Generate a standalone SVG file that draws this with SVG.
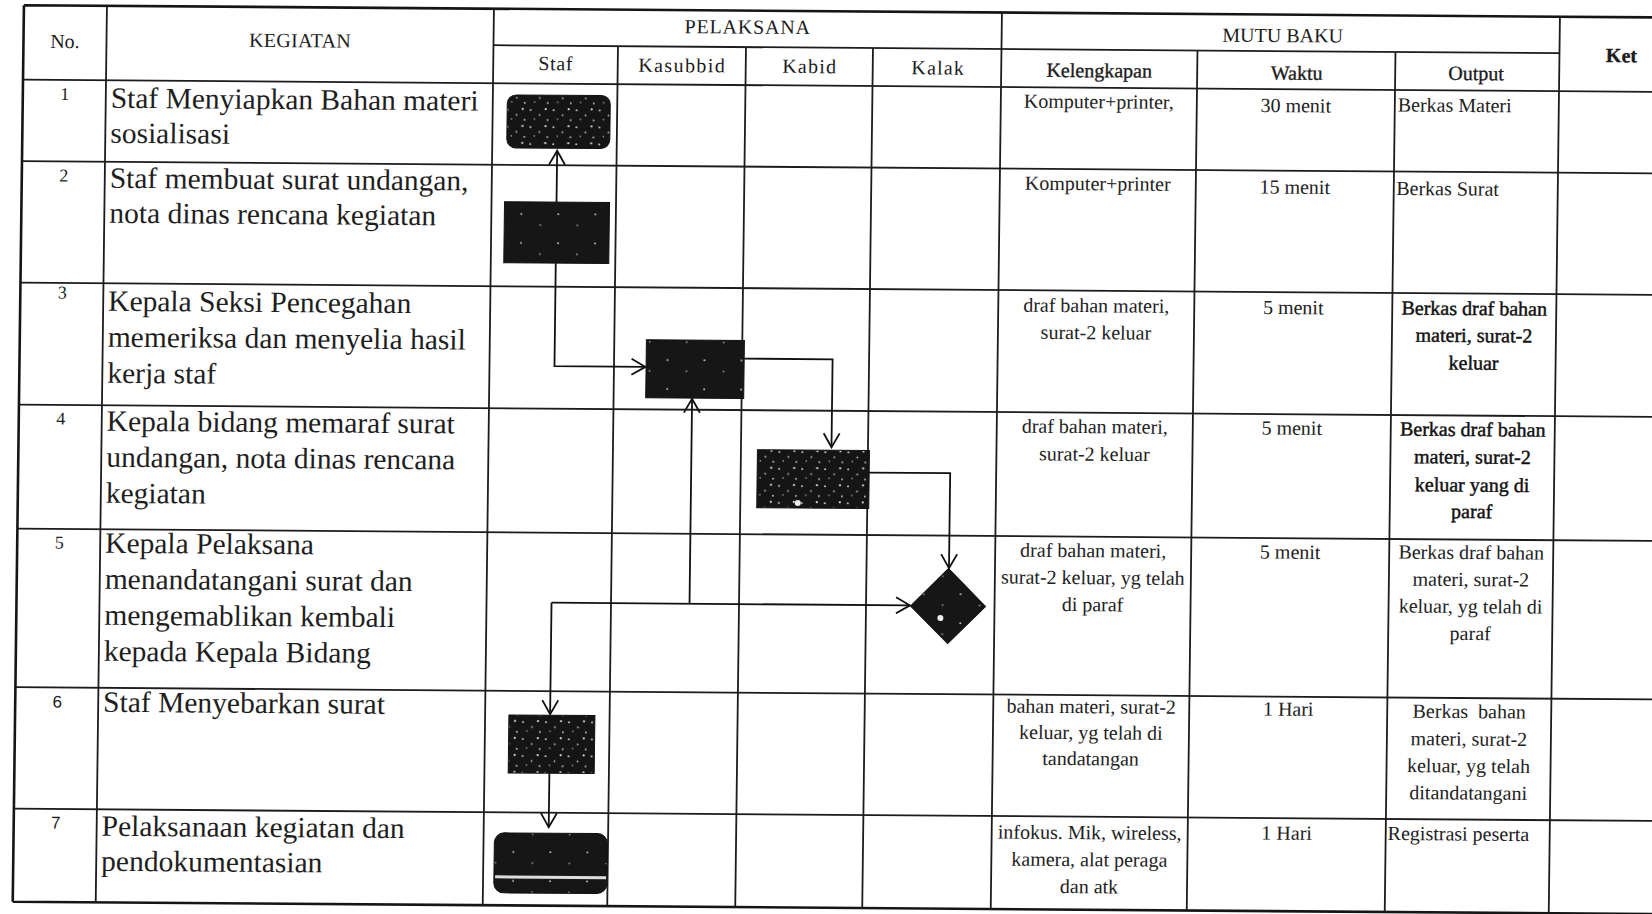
<svg xmlns="http://www.w3.org/2000/svg" width="1652" height="914" viewBox="0 0 1652 914">
<defs>
<style>
.ln{stroke:#1c1c1c;stroke-width:1.8;fill:none}
.out{stroke:#151515;stroke-width:2.6;fill:none}
.hd{font-family:"Liberation Serif",serif;font-size:20px;fill:#1c1c1c;text-anchor:middle}
.hdb{font-family:"Liberation Serif",serif;font-size:20px;fill:#1c1c1c;text-anchor:middle;stroke:#1c1c1c;stroke-width:0.35}
.body{font-family:"Liberation Serif",serif;font-size:29.5px;fill:#1e1e1e}
.num{font-family:"Liberation Serif",serif;font-size:18px;fill:#1e1e1e;text-anchor:middle}
.nums{font-family:"Liberation Sans",sans-serif;font-size:17px;fill:#1e1e1e;text-anchor:middle}
.cell{font-family:"Liberation Serif",serif;font-size:20px;fill:#222;text-anchor:middle}
.cellB{font-family:"Liberation Serif",serif;font-size:20px;fill:#111;text-anchor:middle;stroke:#111;stroke-width:0.45}
.cellL{font-family:"Liberation Serif",serif;font-size:20px;fill:#222}
.conn{stroke:#111;stroke-width:1.8;fill:none;marker-end:url(#arr)}
.box{stroke:#111;stroke-width:1}
</style>
<marker id="arr" markerUnits="userSpaceOnUse" viewBox="0 0 17 18" markerWidth="17" markerHeight="18" refX="15" refY="9" orient="auto">
<path d="M1,1 L15,9 L1,17" fill="none" stroke="#111" stroke-width="1.8"/>
</marker>
<pattern id="speck" width="23" height="17" patternUnits="userSpaceOnUse">
<rect width="23" height="17" fill="#151515"/>
<circle cx="3" cy="4" r="1" fill="#d0d0d0"/>
<circle cx="12" cy="9" r="0.9" fill="#bbb"/>
<circle cx="18" cy="3" r="1.1" fill="#ddd"/>
<circle cx="7" cy="13" r="0.8" fill="#aaa"/>
<circle cx="20" cy="14" r="0.9" fill="#ccc"/>
</pattern>
<pattern id="speck2" width="37" height="29" patternUnits="userSpaceOnUse">
<rect width="37" height="29" fill="#161616"/>
<circle cx="6" cy="7" r="1" fill="#bbb"/>
<circle cx="25" cy="18" r="0.9" fill="#aaa"/>
</pattern>
</defs>
<rect width="1652" height="914" fill="#fff"/>
<g id="table" transform="matrix(1,0.0075,-0.0125,1,0,0)">
<g id="grid">
<path class="out" d="M24,5 H1700 M24,5 V901.5 M24,901.5 H1700"/>
<path class="ln" d="M494,41.5 H1560 M24,79.5 H1700 M24,161 H1700 M24,282.5 H1700 M24,404.5 H1700 M24,528.5 H1700 M24,687 H1700 M24,808.5 H1700"/>
<path class="ln" d="M107,5 V901.5 M494,5 V901.5 M618.5,41.5 V901.5 M746.5,41.5 V901.5 M873.5,41.5 V901.5 M1002,5 V901.5 M1198,41.5 V901.5 M1396,41.5 V901.5 M1560,5 V901.5"/>
</g>
<g id="header">
<text class="hd" x="65.5" y="47.5" font-size="21">No.</text>
<text class="hd" x="300.5" y="45" font-size="20" letter-spacing="0.3">KEGIATAN</text>
<text class="hd" x="748" y="28" letter-spacing="0.8">PELAKSANA</text>
<text class="hd" x="1283" y="32.5">MUTU BAKU</text>
<text class="hd" x="556.5" y="66" font-size="19" letter-spacing="0.6">Staf</text>
<text class="hd" x="683" y="67" font-size="19" letter-spacing="1.4">Kasubbid</text>
<text class="hd" x="810.5" y="67" font-size="19" letter-spacing="1.2">Kabid</text>
<text class="hd" x="939" y="67.5" font-size="19" letter-spacing="1.2">Kalak</text>
<text class="hdb" x="1100" y="69">Kelengkapan</text>
<text class="hdb" x="1297.5" y="70">Waktu</text>
<text class="hdb" x="1477" y="69">Output</text>
<text class="hdb" x="1622" y="50" font-weight="bold">Ket</text>
</g>
<g id="col-no">
<text class="num" x="66" y="99.5">1</text>
<text class="num" x="66" y="181">2</text>
<text class="num" x="66" y="298">3</text>
<text class="num" x="66" y="424">4</text>
<text class="num" x="66" y="548">5</text>
<text class="nums" x="66" y="707">6</text>
<text class="nums" x="66" y="828">7</text>
</g>
<g id="col-kegiatan">
<text class="body" x="112" y="107">Staf Menyiapkan Bahan materi</text>
<text class="body" x="112" y="142">sosialisasi</text>
<text class="body" x="112" y="187">Staf membuat surat undangan,</text>
<text class="body" x="112" y="222">nota dinas rencana kegiatan</text>
<text class="body" x="112" y="310">Kepala Seksi Pencegahan</text>
<text class="body" x="112" y="346">memeriksa dan menyelia hasil</text>
<text class="body" x="112" y="382">kerja staf</text>
<text class="body" x="112" y="430">Kepala bidang memaraf surat</text>
<text class="body" x="112" y="466">undangan, nota dinas rencana</text>
<text class="body" x="112" y="502">kegiatan</text>
<text class="body" x="112" y="552">Kepala Pelaksana</text>
<text class="body" x="112" y="588">menandatangani surat dan</text>
<text class="body" x="112" y="624">mengemablikan kembali</text>
<text class="body" x="112" y="660">kepada Kepala Bidang</text>
<text class="body" x="112" y="711">Staf Menyebarkan surat</text>
<text class="body" x="112" y="835">Pelaksanaan kegiatan dan</text>
<text class="body" x="112" y="870">pendokumentasian</text>
</g>
<g id="col-mutu">
<text class="cell" x="1100" y="100">Komputer+printer,</text>
<text class="cell" x="1297" y="102.5">30 menit</text>
<text class="cellL" x="1399" y="101">Berkas Materi</text>
<text class="cell" x="1100" y="182">Komputer+printer</text>
<text class="cell" x="1297" y="184">15 menit</text>
<text class="cellL" x="1398.5" y="184.5">Berkas Surat</text>
<text class="cell" x="1100" y="304">draf bahan materi,</text>
<text class="cell" x="1100" y="331">surat-2 keluar</text>
<text class="cell" x="1297" y="304.5">5 menit</text>
<text class="cellB" x="1478" y="304">Berkas draf bahan</text>
<text class="cellB" x="1478" y="331">materi, surat-2</text>
<text class="cellB" x="1478" y="358.5">keluar</text>
<text class="cell" x="1100" y="425">draf bahan materi,</text>
<text class="cell" x="1100" y="452.5">surat-2 keluar</text>
<text class="cell" x="1297" y="425">5 menit</text>
<text class="cellB" x="1478" y="425">Berkas draf bahan</text>
<text class="cellB" x="1478" y="452.5">materi, surat-2</text>
<text class="cellB" x="1478" y="480.5">keluar yang di</text>
<text class="cellB" x="1478" y="507">paraf</text>
<text class="cell" x="1100" y="549">draf bahan materi,</text>
<text class="cell" x="1100" y="576">surat-2 keluar, yg telah</text>
<text class="cell" x="1100" y="603">di paraf</text>
<text class="cell" x="1297" y="549">5 menit</text>
<text class="cell" x="1478" y="548">Berkas draf bahan</text>
<text class="cell" x="1478" y="575">materi, surat-2</text>
<text class="cell" x="1478" y="602">keluar, yg telah di</text>
<text class="cell" x="1478" y="629">paraf</text>
<text class="cell" x="1100" y="705">bahan materi, surat-2</text>
<text class="cell" x="1100" y="731">keluar, yg telah di</text>
<text class="cell" x="1100" y="757">tandatangan</text>
<text class="cell" x="1297" y="706">1 Hari</text>
<text class="cell" x="1478" y="707" style="white-space:pre">Berkas  bahan</text>
<text class="cell" x="1478" y="734.5">materi, surat-2</text>
<text class="cell" x="1478" y="761.5">keluar, yg telah</text>
<text class="cell" x="1478" y="788.5">ditandatangani</text>
<text class="cell" x="1100" y="831">infokus. Mik, wireless,</text>
<text class="cell" x="1100" y="858">kamera, alat peraga</text>
<text class="cell" x="1100" y="885">dan atk</text>
<text class="cell" x="1297" y="830">1 Hari</text>
<text class="cellL" x="1398" y="829.5">Registrasi peserta</text>
</g>
<g id="connectors">
<path class="conn" d="M559,198 L559,146.5"/>
<path class="conn" d="M559,259 L559,362 L650,362"/>
<path class="conn" d="M748.6,353 L837,353 L837,441"/>
<path class="conn" d="M875,466 L956,466 L956,561"/>
<path class="conn" d="M697,598.5 L697,393.5"/>
<path class="conn" d="M559,598.5 L917.5,598.5"/>
<path class="conn" d="M559,598.5 L559,710"/>
<path class="conn" d="M559,769 L559,823"/>
</g>
<g id="n1"><rect class="box" x="508.5" y="91" width="103" height="53" rx="9" fill="url(#speck)"/></g>
<g id="n2"><rect class="box" x="507" y="198" width="105" height="61" fill="url(#speck2)"/></g>
<g id="n3"><rect class="box" x="650.6" y="334.8" width="98" height="58" fill="url(#speck2)"/></g>
<g id="n4"><rect class="box" x="763" y="444" width="112" height="58" fill="url(#speck)"/><circle cx="804" cy="497" r="3" fill="#eee"/></g>
<g id="n5"><polygon class="box" points="955.6,561.4 993,599 955.6,636.4 918,599" fill="url(#speck2)"/><circle cx="948" cy="611" r="3" fill="#eee"/></g>
<g id="n6"><rect class="box" x="517.8" y="711" width="86" height="58" fill="url(#speck)"/></g>
<g id="n7"><rect class="box" x="504.8" y="829" width="113" height="60" rx="10" fill="url(#speck2)"/><line x1="506" y1="873" x2="617" y2="873" stroke="#ddd" stroke-width="3"/></g>
</g>
</svg>
